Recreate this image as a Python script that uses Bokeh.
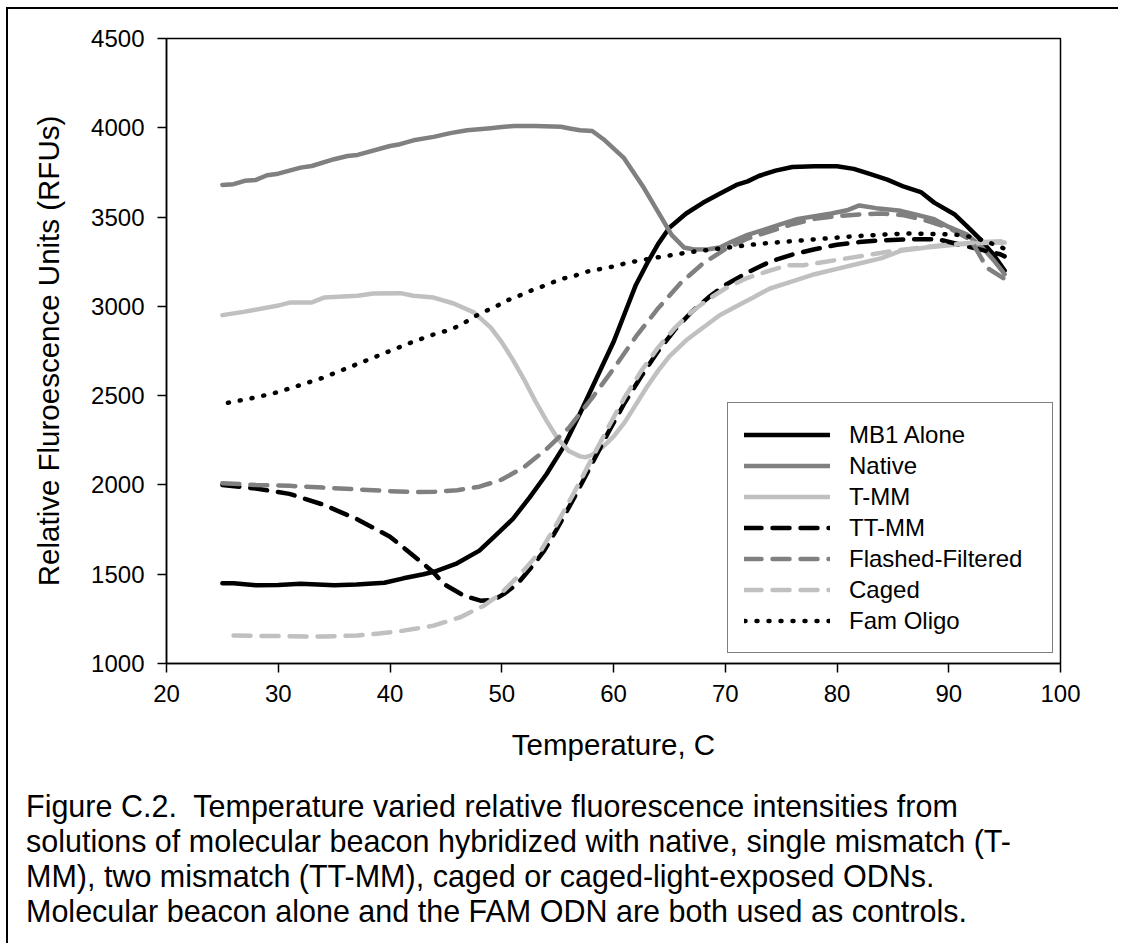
from bokeh.plotting import figure
from bokeh.models import Legend, LegendItem, Div, FixedTicker
from bokeh.layouts import column
from bokeh.embed import file_html
from bokeh.resources import INLINE

# ---------------- data ----------------
mb1_t = [25, 26, 28, 30, 32, 35, 37, 39.5, 41.2, 43, 44, 46, 48, 49.5, 51, 52.5, 54, 55.5, 57, 58.5, 60, 61, 62, 63,
         64, 65, 66.5, 68, 69.5, 71, 72, 73, 74.5, 76, 78, 80, 81.5, 83, 84.5, 86, 87.5, 88.7, 90.5, 91.6, 92.8, 94, 95]
mb1_v = [1450, 1450, 1438, 1440, 1446, 1438, 1442, 1452, 1477, 1500, 1515, 1561, 1632, 1720, 1810, 1930, 2060, 2210,
         2400, 2600, 2800, 2960, 3120, 3240, 3350, 3440, 3520, 3580, 3630, 3680, 3700, 3730, 3760, 3780, 3785, 3785,
         3770, 3740, 3710, 3670, 3640, 3581, 3516, 3451, 3376, 3290, 3200]

native_t = [25, 26, 27, 28, 29, 30, 32, 33, 35, 36.2, 37.1, 40, 40.9, 42.1, 43.9, 45.4, 46.9, 49, 50, 51.1, 53, 55.3,
            56.2, 57, 58.1, 59.1, 60.9, 62.7, 64.2, 65.2, 66.3, 67.2, 68.5, 69.5, 70.5, 72, 73.5, 75, 76.5, 78, 79.5,
            81, 82, 83.5, 85.7, 87, 88.7, 90, 91.6, 93, 94, 95]
native_v = [3680, 3684, 3703, 3708, 3734, 3743, 3777, 3786, 3824, 3842, 3848, 3898, 3908, 3930, 3949, 3970, 3986, 3998,
            4004, 4010, 4010, 4006, 3995, 3986, 3982, 3936, 3833, 3665, 3507, 3400, 3330, 3318, 3320, 3330, 3360, 3400,
            3430, 3460, 3490, 3505, 3520, 3540, 3565, 3550, 3535, 3515, 3488, 3445, 3404, 3330, 3260, 3180]

tmm_t = [25, 26.9, 29.9, 31.1, 33, 34.1, 37.1, 38.5, 40.9, 42.1, 43.9, 45.7, 47.5, 49, 50, 51, 52, 53, 54, 55, 56, 57,
         57.5, 58, 59, 60, 61, 62, 63, 64, 65, 66.5, 68, 69.5, 71, 72.5, 74, 76, 78, 80, 82, 84, 85.7, 88, 91, 93, 95]
tmm_v = [2951, 2969, 3003, 3022, 3022, 3049, 3059, 3072, 3074, 3059, 3049, 3016, 2966, 2882, 2800, 2700, 2590, 2470,
         2360, 2260, 2190, 2160, 2155, 2165, 2210, 2270, 2350, 2450, 2550, 2640, 2720, 2810, 2880, 2950, 3000, 3050,
         3100, 3140, 3180, 3210, 3240, 3270, 3311, 3330, 3348, 3355, 3357]

ttmm_t = [25, 28, 31, 34, 37, 40, 42.1, 43.9, 44.8, 46.6, 48.1, 49.3, 50.2, 51.4, 52.9, 53.8, 55, 56.5, 58, 59.5, 61,
          62.5, 64, 65.5, 67, 68.5, 70, 72, 74, 76, 78, 80, 82, 84, 86.9, 89, 92.1, 94.6, 95]
ttmm_v = [2000, 1980, 1950, 1890, 1810, 1710, 1604, 1510, 1446, 1380, 1352, 1356, 1390, 1446, 1558, 1632, 1760, 1930,
          2110, 2290, 2460, 2610, 2750, 2870, 2970, 3050, 3120, 3190, 3250, 3290, 3320, 3345, 3360, 3370, 3376, 3376,
          3329, 3292, 3280]

flash_t = [25, 28, 31, 34, 37, 40, 42, 44, 46, 48, 50, 52, 54, 56, 58, 60, 62, 64, 66, 68, 70, 72, 74, 76, 78, 80, 82,
           84, 86, 88, 90, 92, 93.4, 95]
flash_v = [2010, 2000, 1995, 1985, 1975, 1965, 1960, 1962, 1970, 1990, 2030, 2100, 2200, 2320, 2480, 2650, 2830, 2990,
           3130, 3240, 3320, 3380, 3420, 3460, 3490, 3505, 3515, 3520, 3510, 3480, 3440, 3370, 3217, 3153]

caged_t = [26, 28, 30.5, 34.1, 37.1, 39, 41.2, 43.9, 46.3, 48.4, 49.9, 51.7, 53.5, 55, 56.5, 58, 59.5, 61, 62.5, 64,
           65.5, 67, 68.5, 70, 72, 74, 75.5, 77, 79, 81, 83, 85, 87, 89, 91, 93, 95]
caged_v = [1157, 1155, 1153, 1151, 1157, 1168, 1184, 1212, 1259, 1324, 1390, 1502, 1632, 1790, 1960, 2140, 2320, 2490,
           2640, 2770, 2880, 2970, 3040, 3100, 3160, 3200, 3230, 3230, 3250, 3270, 3290, 3310, 3325, 3340, 3350, 3360,
           3365]

fam_t = [25.5, 28, 30, 32, 34, 36, 38, 40, 42, 44, 45.4, 46.5, 47.4, 48.4, 49.4, 50.4, 51.4, 52.4, 53.4, 54.4, 55.3,
         56.4, 57.3, 58.3, 59.3, 60.3, 61.3, 62.3, 63.3, 65, 67, 69, 71, 73, 75, 77, 79, 81, 83, 86.1, 90, 91.05, 92,
         93, 94, 95.1]
fam_v = [2460, 2490, 2520, 2560, 2600, 2650, 2700, 2750, 2800, 2845, 2869, 2901, 2938, 2969, 2997, 3031, 3055, 3083,
         3106, 3130, 3153, 3168, 3190, 3203, 3214, 3227, 3246, 3255, 3268, 3285, 3305, 3320, 3335, 3350, 3360, 3370,
         3380, 3390, 3398, 3408, 3404, 3399, 3389, 3371, 3348, 3320]

labels = ["MB1 Alone", "Native", "T-MM", "TT-MM", "Flashed-Filtered", "Caged", "Fam Oligo"]
x_ticks = [20, 30, 40, 50, 60, 70, 80, 90, 100]
y_ticks = [1000, 1500, 2000, 2500, 3000, 3500, 4000, 4500]

caption_lines = [
    "Figure C.2.&nbsp; Temperature varied relative fluorescence intensities from",
    "solutions of molecular beacon hybridized with native, single mismatch (T-",
    "MM), two mismatch (TT-MM), caged or caged-light-exposed ODNs.",
    "Molecular beacon alone and the FAM ODN are both used as controls.",
]

FONT = "Liberation Sans"

# ---------------- figure ----------------
p = figure(frame_width=894, frame_height=625, min_border_left=158, min_border_top=29,
           min_border_right=40, min_border_bottom=126,
           x_range=(20, 100), y_range=(1000, 4500),
           output_backend="svg", toolbar_location=None)
p.xgrid.visible = False
p.ygrid.visible = False
p.outline_line_color = "black"
p.outline_line_width = 1.5
p.outline_line_alpha = 1

for ax in (p.xaxis[0], p.yaxis[0]):
    ax.major_tick_out = 9
    ax.major_tick_in = 0
    ax.minor_tick_out = 0
    ax.minor_tick_in = 0
    ax.axis_line_width = 1.5
    ax.major_tick_line_width = 1.5
    ax.major_label_text_font = FONT
    ax.major_label_text_font_size = "24px"
    ax.major_label_text_color = "black"
    ax.axis_label_text_font = FONT
    ax.axis_label_text_font_size = "29.5px"
    ax.axis_label_text_font_style = "normal"
    ax.axis_label_text_color = "black"

p.xaxis.ticker = FixedTicker(ticks=x_ticks)
p.yaxis.ticker = FixedTicker(ticks=y_ticks)
p.xaxis.major_label_standoff = 12
p.yaxis.major_label_standoff = 13
p.xaxis.axis_label = "Temperature, C"
p.yaxis.axis_label = "Relative Fluroescence Units (RFUs)"
p.xaxis.axis_label_standoff = 23
p.yaxis.axis_label_standoff = 23

W = 4.5
series = [
    (mb1_t, mb1_v, "black", None),
    (native_t, native_v, "#808080", None),
    (tmm_t, tmm_v, "#c0c0c0", None),
    (ttmm_t, ttmm_v, "black", "17 11"),
    (flash_t, flash_v, "#808080", "17 11"),
    (caged_t, caged_v, "#c0c0c0", "17 11"),
    (fam_t, fam_v, "black", "1 11"),
]

items = []
for (xs, ys, col, dash), lab in zip(series, labels):
    kw = dict(line_color=col, line_width=W, line_cap="round", line_join="round")
    if dash is not None:
        kw["line_dash"] = dash
    r = p.line(xs, ys, **kw)
    items.append(LegendItem(label=lab, renderers=[r]))

legend = Legend(items=items, location=(561, 10),
                label_text_font=FONT, label_text_font_size="24px", label_text_color="black",
                glyph_width=86, glyph_height=31, label_height=31, label_width=187, label_standoff=19,
                spacing=0, padding=16, margin=0,
                border_line_color="black", border_line_width=1.5,
                background_fill_color="white", background_fill_alpha=1)
p.add_layout(legend)

cap = Div(text="<br>".join(caption_lines), width=1110, height=154, margin=(0, 0, 0, 0),
          styles={"font-family": FONT, "font-size": "30.5px", "line-height": "35px",
                  "padding-left": "18px", "color": "black", "white-space": "nowrap"})

layout = column(p, cap, margin=(7, 0, 0, 6),
                styles={"border-left": "2px solid black", "border-top": "2px solid black"})

open("out.html", "w").write(file_html(layout, INLINE))
